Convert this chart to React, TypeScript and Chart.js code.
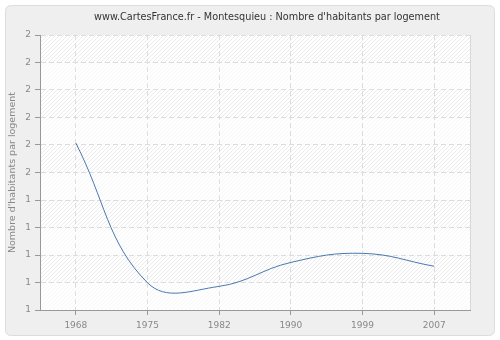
import React, { useEffect, useRef } from "react";
import { Chart, registerables } from "chart.js";

Chart.register(...registerables);

const years = ["1968", "1975", "1982", "1990", "1999", "2007"];
const values = [1.607, 1.099, 1.086, 1.173, 1.206, 1.159];
const titleText = "www.CartesFrance.fr - Montesquieu : Nombre d'habitants par logement";
const yTitle = "Nombre d'habitants par logement";

const FONT = "'DejaVu Sans', sans-serif";

const backgroundPlugin = {
  id: "bgCard",
  beforeDraw(chart: any) {
    const { ctx, chartArea, width, height } = chart;
    ctx.save();
    ctx.fillStyle = "#ffffff";
    ctx.fillRect(0, 0, width, height);
    const x = 5.5, y = 5.5, w = 489, h = 330, r = 6;
    ctx.beginPath();
    ctx.moveTo(x + r, y);
    ctx.lineTo(x + w - r, y);
    ctx.quadraticCurveTo(x + w, y, x + w, y + r);
    ctx.lineTo(x + w, y + h - r);
    ctx.quadraticCurveTo(x + w, y + h, x + w - r, y + h);
    ctx.lineTo(x + r, y + h);
    ctx.quadraticCurveTo(x, y + h, x, y + h - r);
    ctx.lineTo(x, y + r);
    ctx.quadraticCurveTo(x, y, x + r, y);
    ctx.closePath();
    ctx.fillStyle = "#efefef";
    ctx.fill();
    ctx.strokeStyle = "#dcdcdc";
    ctx.lineWidth = 1;
    ctx.stroke();
    const { left, top, right, bottom } = chartArea;
    ctx.fillStyle = "#ffffff";
    ctx.fillRect(left, top, right - left, bottom - top);
    ctx.beginPath();
    ctx.rect(left, top, right - left, bottom - top);
    ctx.clip();
    ctx.strokeStyle = "#ebebeb";
    ctx.lineWidth = 1;
    const hgt = bottom - top;
    for (let d = -hgt; d < right - left + 4; d += 4) {
      ctx.beginPath();
      ctx.moveTo(left + d, bottom);
      ctx.lineTo(left + d + hgt, top);
      ctx.stroke();
    }
    const ys = chart.scales.y;
    ctx.fillStyle = "rgba(255,255,255,0.6)";
    for (let i = 0; i < 10; i++) {
      if (i % 2 === 1) {
        const p1 = ys.getPixelForValue(2 - i * 0.1);
        const p2 = ys.getPixelForValue(2 - (i + 1) * 0.1);
        ctx.fillRect(left, p1, right - left, p2 - p1);
      }
    }
    ctx.restore();
    ctx.save();
    ctx.strokeStyle = "#d8d8d8";
    ctx.beginPath();
    ctx.moveTo(Math.round(right) + 0.5, top);
    ctx.lineTo(Math.round(right) + 0.5, bottom);
    ctx.stroke();
    ctx.restore();
  },
  afterDraw(chart: any) {
    const { ctx } = chart;
    ctx.save();
    ctx.fillStyle = "#333333";
    ctx.font = `9.7px ${FONT}`;
    ctx.textAlign = "center";
    ctx.textBaseline = "middle";
    ctx.fillText(titleText, 267, 17);
    ctx.restore();
  },
};

export default function App() {
  const ref = useRef<HTMLCanvasElement | null>(null);
  useEffect(() => {
    document.body.style.margin = "0";
    const canvas = ref.current!;
    const chart = new Chart(canvas, {
      type: "line",
      data: {
        labels: years,
        datasets: [
          {
            data: values,
            borderColor: "#4a78b2",
            borderWidth: 1,
            pointRadius: 0,
            tension: 0.41,
            fill: false,
          },
        ],
      },
      options: {
        animation: false,
        responsive: false,
        maintainAspectRatio: false,
        layout: { padding: { left: 0, right: 30, top: 0, bottom: 0 } },
        plugins: {
          legend: { display: false },
          tooltip: { enabled: false },
          title: {
            display: true,
            text: titleText,
            color: "rgba(0,0,0,0)",
            font: { family: FONT, size: 10, weight: "normal" },
            padding: { top: 11, bottom: 12 },
          },
        },
        scales: {
          x: {
            type: "category",
            offset: true,
            grid: {
              color: "#dddddd",
              tickColor: "#999999",
              tickLength: 5,
              drawOnChartArea: true,
            },
            border: { color: "#999999", width: 1, dash: [5, 3] },
            ticks: {
              color: "#888888",
              font: { family: FONT, size: 9 },
              padding: 5,
              maxRotation: 0,
            },
            afterFit(scale: any) {
              scale.height = 30;
            },
          },
          y: {
            min: 1,
            max: 2,
            grid: {
              color: "#dddddd",
              tickColor: "#999999",
              tickLength: 5,
            },
            border: { color: "#999999", width: 1, dash: [5, 3] },
            ticks: {
              stepSize: 0.1,
              color: "#888888",
              font: { family: FONT, size: 9 },
              padding: 4,
              callback: (v: any) => String(Math.round(Number(Number(v).toFixed(3)))),
            },
            title: {
              display: true,
              text: yTitle,
              color: "#888888",
              font: { family: FONT, size: 9.5 },
              padding: { top: 7, bottom: 0 },
            },
            afterFit(scale: any) {
              scale.width = 40;
            },
          },
        },
      },
      plugins: [backgroundPlugin],
    } as any);
    return () => chart.destroy();
  }, []);
  return <canvas ref={ref} width={500} height={340} style={{ display: "block" }} />;
}
